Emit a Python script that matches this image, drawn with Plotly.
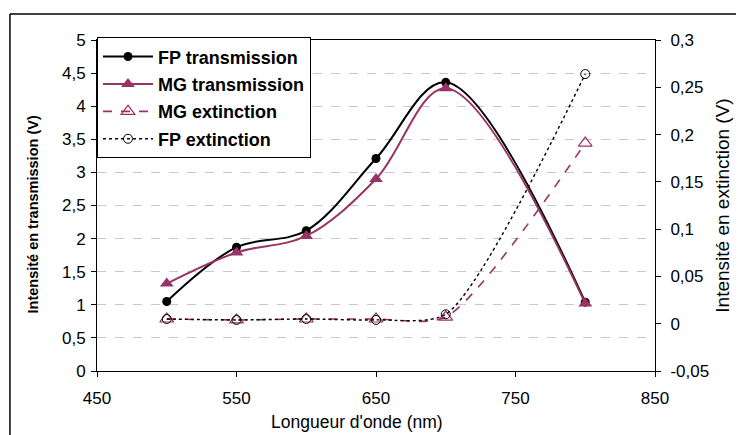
import plotly.graph_objects as go

# wavelengths (nm)
wavelength = [500, 550, 600, 650, 700, 800]

# transmission (V), left axis
fp_transmission = [1.05, 1.87, 2.12, 3.21, 4.36, 1.04]
mg_transmission = [1.32, 1.79, 2.04, 2.90, 4.27, 1.02]

# extinction (V), right axis
mg_extinction = [0.005, 0.004, 0.005, 0.005, 0.007, 0.191]
fp_extinction = [0.005, 0.004, 0.005, 0.004, 0.010, 0.264]

# right axis ticks (Excel style labels with a comma and plain hyphen)
ext_ticks = [-0.05, 0, 0.05, 0.1, 0.15, 0.2, 0.25, 0.3]
ext_labels = [("%g" % v).replace(".", ",") for v in ext_ticks]

PURPLE = "#993366"
FONT = "Liberation Sans, Arial, sans-serif"

fig = go.Figure()

fig.add_trace(go.Scatter(
    x=wavelength, y=fp_transmission, name="FP transmission",
    mode="lines+markers", line=dict(color="black", width=2, shape="spline"),
    marker=dict(symbol="circle", size=9, color="black"),
    legendgroup="a",
))
fig.add_trace(go.Scatter(
    x=wavelength, y=mg_transmission, name="MG transmission",
    mode="lines+markers", line=dict(color=PURPLE, width=2, shape="spline"),
    marker=dict(symbol="triangle-up", size=12, color=PURPLE),
    legendgroup="b",
))
fig.add_trace(go.Scatter(
    x=wavelength, y=mg_extinction, name="MG extinction", yaxis="y2",
    mode="lines+markers",
    line=dict(color=PURPLE, width=1.6, dash="dash", shape="spline",
              smoothing=0.7),
    marker=dict(symbol="triangle-up-open", size=12, color=PURPLE,
                line=dict(width=1.2)),
    legendgroup="c",
))
fig.add_trace(go.Scatter(
    x=wavelength, y=fp_extinction, name="FP extinction", yaxis="y2",
    mode="lines+markers",
    line=dict(color="black", width=1.4, dash="dot", shape="spline",
              smoothing=0.7),
    marker=dict(symbol="circle-open", size=9, color="black",
                line=dict(width=1)),
    legendgroup="d",
))

axis_common = dict(
    showline=True, linecolor="black", linewidth=1,
    ticks="outside", ticklen=5, tickcolor="black",
    tickfont=dict(family=FONT, size=17, color="black"),
    zeroline=False,
)

# the page body adds an 8px margin, so the figure is 8px smaller
# and the left/top margins are 8px less than on the reference
fig.update_layout(
    width=736, height=427,
    margin=dict(l=89, r=89, t=32, b=64),
    paper_bgcolor="white", plot_bgcolor="white",
    separators=", ",
    font=dict(family=FONT, color="black"),
    xaxis=dict(
        range=[450, 850], dtick=100, tick0=450, mirror=True,
        showgrid=False, ticklabelstandoff=7,
        **axis_common,
    ),
    yaxis=dict(
        range=[0, 5], dtick=0.5, tick0=0,
        showgrid=True, gridcolor="#c8c8c8", griddash="dash", gridwidth=1,
        ticklabelstandoff=2,
        **axis_common,
    ),
    yaxis2=dict(
        range=[-0.05, 0.3], tickvals=ext_ticks, ticktext=ext_labels,
        overlaying="y", side="right", showgrid=False,
        ticklabelstandoff=6,
        title=dict(text="Intensité en extinction (V)", standoff=7,
                   font=dict(family=FONT, size=19)),
        **axis_common,
    ),
    legend=dict(
        x=0, y=1.008, xanchor="left", yanchor="top",
        bgcolor="white", bordercolor="black", borderwidth=1,
        font=dict(family=FONT, size=18, color="black", weight="bold"),
        itemwidth=50, tracegroupgap=1,
    ),
    annotations=[
        dict(text="Longueur d'onde (nm)", xref="paper", yref="paper",
             x=0.466, y=-0.155, xanchor="center", yanchor="middle",
             showarrow=False, font=dict(family=FONT, size=17.5)),
        dict(text="<b>Intensité en transmission (V)</b>", xref="paper",
             yref="paper", x=-0.114, y=0.474, textangle=-90,
             xanchor="center", yanchor="middle", showarrow=False,
             font=dict(family=FONT, size=14.5)),
    ],
    shapes=[
        dict(type="line", xref="paper", yref="paper",
             x0=-0.156, x1=-0.156, y0=1.0785, y1=-0.3,
             line=dict(color="black", width=1.5)),
        dict(type="line", xref="paper", yref="paper",
             x0=-0.156, x1=1.3, y0=1.0785, y1=1.0785,
             line=dict(color="black", width=1.5)),
    ],
)

fig.write_html("out.html")
